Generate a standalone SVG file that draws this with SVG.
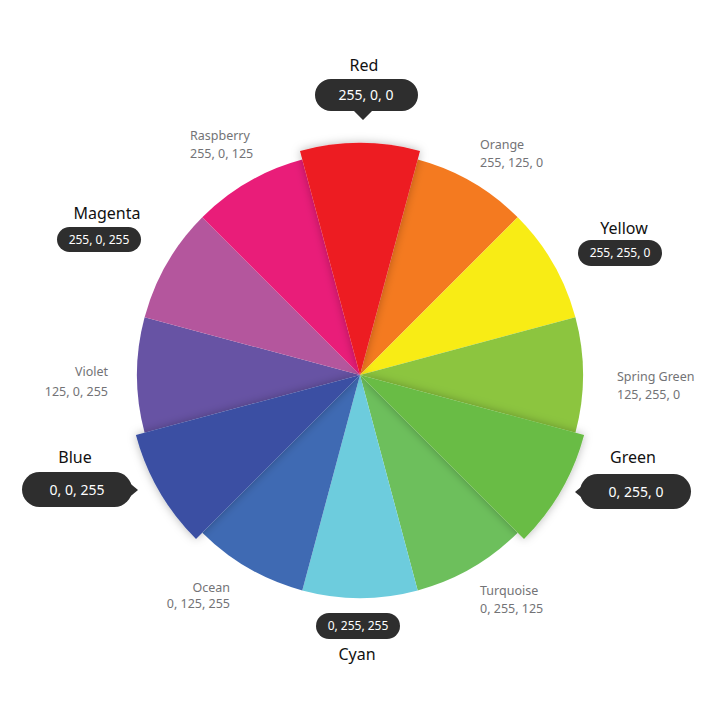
<svg xmlns="http://www.w3.org/2000/svg" width="720" height="720" viewBox="0 0 720 720">
<defs>
<filter id="sh" x="-30%" y="-30%" width="160%" height="160%">
<feDropShadow dx="0" dy="0" stdDeviation="5" flood-color="#000" flood-opacity="0.28"/>
</filter>
<style>
.name{font-family:"Noto Sans","Open Sans",sans-serif;font-size:16px;fill:#111;text-anchor:middle}
.sub{font-family:"Noto Sans","Open Sans",sans-serif;font-size:12.5px;fill:#737376}
.bub{fill:#2e2e2e}
.bt{font-family:"Noto Sans","Open Sans",sans-serif;font-size:12px;fill:#fff;text-anchor:middle}
.bt2{font-family:"Noto Sans","Open Sans",sans-serif;font-size:14px;fill:#fff;text-anchor:middle}
</style>
</defs>
<rect width="720" height="720" fill="#fff"/>
<g id="wheel">
<path id="orange" d="M360 375L417.7 159.6A223 223 0 0 1 517.7 217.3Z" fill="#F47A20"/>
<path id="yellow" d="M360 375L517.7 217.3A223 223 0 0 1 575.4 317.3Z" fill="#F8EC15"/>
<path id="springgreen" d="M360 375L575.4 317.3A223 223 0 0 1 575.4 432.7Z" fill="#8CC53F"/>
<path id="turquoise" d="M360 375L517.7 532.7A223 223 0 0 1 417.7 590.4Z" fill="#6DBF5C"/>
<path id="cyan" d="M360 375L417.7 590.4A223 223 0 0 1 302.3 590.4Z" fill="#6DCCDD"/>
<path id="ocean" d="M360 375L302.3 590.4A223 223 0 0 1 202.3 532.7Z" fill="#3F6AB3"/>
<path id="violet" d="M360 375L144.6 432.7A223 223 0 0 1 144.6 317.3Z" fill="#6753A4"/>
<path id="magenta" d="M360 375L144.6 317.3A223 223 0 0 1 202.3 217.3Z" fill="#B4569D"/>
<path id="raspberry" d="M360 375L202.3 217.3A223 223 0 0 1 302.3 159.6Z" fill="#E91D79"/>
<path id="green" filter="url(#sh)" d="M360 375L584.1 435A232 232 0 0 1 524 539Z" fill="#69BC45"/>
<path id="blue" filter="url(#sh)" d="M360 375L196 539A232 232 0 0 1 135.9 435Z" fill="#3A50A3"/>
<path id="red" filter="url(#sh)" d="M360 375L300 150.9A232 232 0 0 1 420 150.9Z" fill="#ED1C24"/>
</g>
<g id="label-red">
<text class="name" x="364" y="71" font-size="17">Red</text>
<path class="bub" d="M331 79H402A16 16 0 0 1 402 111H372L363 120L354 111H331A16 16 0 0 1 331 79Z"/>
<text class="bt2" x="366" y="100">255, 0, 0</text>
</g>
<g id="label-raspberry">
<text class="sub" x="190" y="140">Raspberry</text>
<text class="sub" x="190" y="158">255, 0, 125</text>
</g>
<g id="label-orange">
<text class="sub" x="480" y="149">Orange</text>
<text class="sub" x="480" y="167">255, 125, 0</text>
</g>
<g id="label-magenta">
<text class="name" x="107" y="219" font-size="15">Magenta</text>
<rect class="bub" x="57" y="227" width="84" height="25" rx="12.5"/>
<text class="bt" x="99" y="244">255, 0, 255</text>
</g>
<g id="label-yellow">
<text class="name" x="624" y="234" font-size="15">Yellow</text>
<rect class="bub" x="578" y="240" width="84" height="26" rx="13"/>
<text class="bt" x="620" y="257">255, 255, 0</text>
</g>
<g id="label-violet">
<text class="sub" x="108" y="376" text-anchor="end">Violet</text>
<text class="sub" x="108" y="396" text-anchor="end">125, 0, 255</text>
</g>
<g id="label-springgreen">
<text class="sub" x="617" y="381">Spring Green</text>
<text class="sub" x="617" y="399">125, 255, 0</text>
</g>
<g id="label-blue">
<text class="name" x="75" y="463" font-size="15">Blue</text>
<rect class="bub" x="22" y="472" width="110" height="35" rx="17.5"/>
<path class="bub" d="M126 480L138 490L126 500Z"/>
<text class="bt2" x="77" y="495">0, 0, 255</text>
</g>
<g id="label-green">
<text class="name" x="633" y="463" font-size="17">Green</text>
<rect class="bub" x="580" y="474" width="111" height="35" rx="17.5"/>
<path class="bub" d="M587 482L575 492L587 502Z"/>
<text class="bt2" x="636" y="497">0, 255, 0</text>
</g>
<g id="label-ocean">
<text class="sub" x="230" y="592" text-anchor="end">Ocean</text>
<text class="sub" x="230" y="608" text-anchor="end">0, 125, 255</text>
</g>
<g id="label-turquoise">
<text class="sub" x="480" y="595">Turquoise</text>
<text class="sub" x="480" y="613">0, 255, 125</text>
</g>
<g id="label-cyan">
<rect class="bub" x="316" y="613" width="84" height="26" rx="13"/>
<text class="bt" x="358" y="630">0, 255, 255</text>
<text class="name" x="357" y="660">Cyan</text>
</g>
</svg>
